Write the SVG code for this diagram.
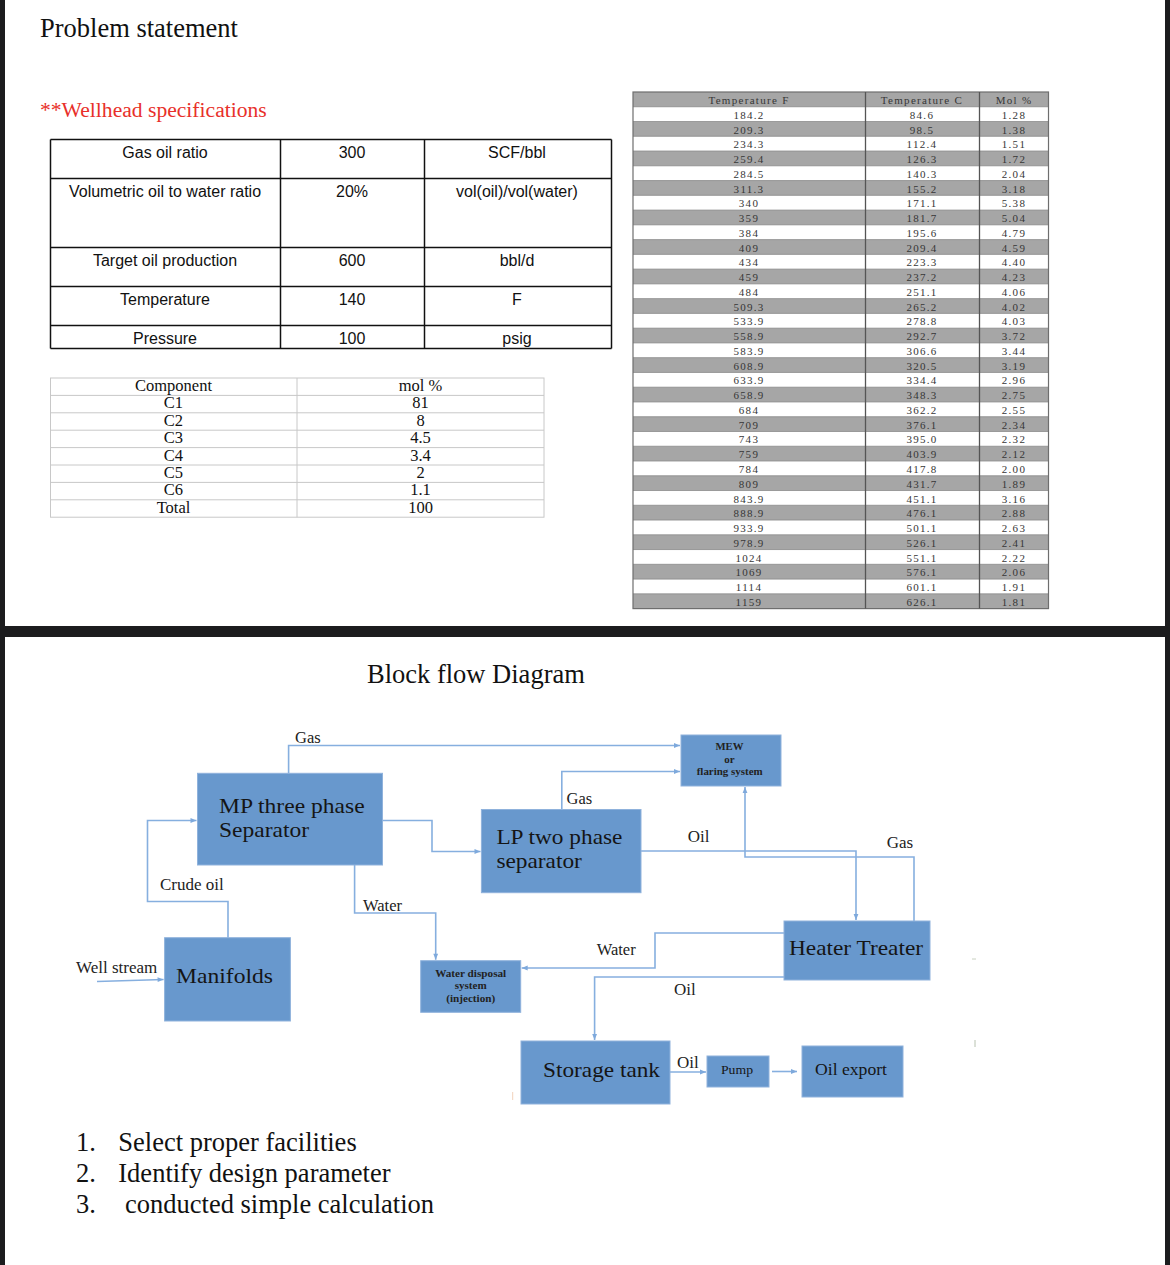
<svg xmlns="http://www.w3.org/2000/svg" width="1170" height="1265" viewBox="0 0 1170 1265">
<style>
.serif{font-family:"Liberation Serif","Times New Roman",serif;fill:#111}
.sans{font-family:"Liberation Sans",Arial,sans-serif;fill:#111;font-size:16px}
.h1{font-size:26.5px}
.comp{font-size:16.5px}
.rt{font-family:"Liberation Serif","Times New Roman",serif;font-size:11px;fill:#363636;letter-spacing:1.3px}
.box{fill:#6898cd;stroke:#8fb2dc;stroke-width:1}
.bt{font-family:"Liberation Serif","Times New Roman",serif;fill:#151515}
.big{font-size:21px}
.small{font-size:11px;font-weight:bold;fill:#222}
.lbl{font-family:"Liberation Serif","Times New Roman",serif;fill:#222;font-size:16.5px}
.conn{fill:none;stroke:#86afdf;stroke-width:1.6}
.wl{stroke:#111;stroke-width:1.5}
.cl{stroke:#c8c8c8;stroke-width:1}
.rl{stroke:#8a8a8a;stroke-width:0.8}
</style>
<defs>
<marker id="ah" viewBox="0 0 10 10" refX="10" refY="5" markerWidth="7" markerHeight="6" orient="auto" markerUnits="userSpaceOnUse">
<path d="M0,1 L10,5 L0,9 z" fill="#7ea9dc"/>
</marker>
</defs>
<rect x="0" y="0" width="1170" height="1265" fill="#ffffff"/>
<!-- frame -->
<rect x="0" y="0" width="5" height="1265" fill="#1c1c1e"/>
<rect x="1165" y="0" width="5" height="1265" fill="#1c1c1e"/>
<rect x="0" y="626" width="1170" height="11" fill="#1c1c1e"/>

<!-- top section -->
<text class="serif h1" x="40" y="36.7">Problem statement</text>
<text x="40" y="116.7" style="font-family:'Liberation Serif','Times New Roman',serif;font-size:21.6px;fill:#e8302a">**Wellhead specifications</text>

<g id="wellhead-table">
<line class="wl" x1="50.5" y1="139.5" x2="611.5" y2="139.5"/>
<line class="wl" x1="50.5" y1="178.5" x2="611.5" y2="178.5"/>
<line class="wl" x1="50.5" y1="247.5" x2="611.5" y2="247.5"/>
<line class="wl" x1="50.5" y1="286.5" x2="611.5" y2="286.5"/>
<line class="wl" x1="50.5" y1="325.5" x2="611.5" y2="325.5"/>
<line class="wl" x1="50.5" y1="348.5" x2="611.5" y2="348.5"/>
<line class="wl" x1="50.5" y1="139.5" x2="50.5" y2="348.5"/>
<line class="wl" x1="280.5" y1="139.5" x2="280.5" y2="348.5"/>
<line class="wl" x1="424.5" y1="139.5" x2="424.5" y2="348.5"/>
<line class="wl" x1="611.5" y1="139.5" x2="611.5" y2="348.5"/>
<g class="sans" text-anchor="middle">
<text x="165" y="158">Gas oil ratio</text><text x="352" y="158">300</text><text x="517" y="158">SCF/bbl</text>
<text x="165" y="197">Volumetric oil to water ratio</text><text x="352" y="197">20%</text><text x="517" y="197">vol(oil)/vol(water)</text>
<text x="165" y="266">Target oil production</text><text x="352" y="266">600</text><text x="517" y="266">bbl/d</text>
<text x="165" y="305">Temperature</text><text x="352" y="305">140</text><text x="517" y="305">F</text>
<text x="165" y="344">Pressure</text><text x="352" y="344">100</text><text x="517" y="344">psig</text>
</g>
</g>

<g id="component-table">
<rect x="50.5" y="378" width="493.5" height="139.2" fill="none" stroke="#c8c8c8" stroke-width="1"/>
<line class="cl" x1="297" y1="378" x2="297" y2="517.2"/>
<line class="cl" x1="50.5" y1="395.4" x2="544" y2="395.4"/>
<line class="cl" x1="50.5" y1="412.8" x2="544" y2="412.8"/>
<line class="cl" x1="50.5" y1="430.2" x2="544" y2="430.2"/>
<line class="cl" x1="50.5" y1="447.6" x2="544" y2="447.6"/>
<line class="cl" x1="50.5" y1="465" x2="544" y2="465"/>
<line class="cl" x1="50.5" y1="482.4" x2="544" y2="482.4"/>
<line class="cl" x1="50.5" y1="499.8" x2="544" y2="499.8"/>
<g class="serif comp" text-anchor="middle">
<text x="173.5" y="391">Component</text><text x="420.5" y="391">mol %</text>
<text x="173.5" y="408.4">C1</text><text x="420.5" y="408.4">81</text>
<text x="173.5" y="425.8">C2</text><text x="420.5" y="425.8">8</text>
<text x="173.5" y="443.2">C3</text><text x="420.5" y="443.2">4.5</text>
<text x="173.5" y="460.6">C4</text><text x="420.5" y="460.6">3.4</text>
<text x="173.5" y="478">C5</text><text x="420.5" y="478">2</text>
<text x="173.5" y="495.4">C6</text><text x="420.5" y="495.4">1.1</text>
<text x="173.5" y="512.8">Total</text><text x="420.5" y="512.8">100</text>
</g>
</g>

<g id="temperature-table">
<rect x="633" y="92" width="415.5" height="516.6" fill="#ffffff"/>
<g fill="#a6a6a6">
<rect x="633" y="92" width="415.5" height="14.76"/>
<rect x="633" y="121.52" width="415.5" height="14.76"/>
<rect x="633" y="151.04" width="415.5" height="14.76"/>
<rect x="633" y="180.56" width="415.5" height="14.76"/>
<rect x="633" y="210.08" width="415.5" height="14.76"/>
<rect x="633" y="239.6" width="415.5" height="14.76"/>
<rect x="633" y="269.12" width="415.5" height="14.76"/>
<rect x="633" y="298.64" width="415.5" height="14.76"/>
<rect x="633" y="328.16" width="415.5" height="14.76"/>
<rect x="633" y="357.68" width="415.5" height="14.76"/>
<rect x="633" y="387.2" width="415.5" height="14.76"/>
<rect x="633" y="416.72" width="415.5" height="14.76"/>
<rect x="633" y="446.24" width="415.5" height="14.76"/>
<rect x="633" y="475.76" width="415.5" height="14.76"/>
<rect x="633" y="505.28" width="415.5" height="14.76"/>
<rect x="633" y="534.8" width="415.5" height="14.76"/>
<rect x="633" y="564.32" width="415.5" height="14.76"/>
<rect x="633" y="593.84" width="415.5" height="14.76"/>
</g>
<g>
<line class="rl" x1="633" y1="106.76" x2="1048.5" y2="106.76"/>
<line class="rl" x1="633" y1="121.52" x2="1048.5" y2="121.52"/>
<line class="rl" x1="633" y1="136.28" x2="1048.5" y2="136.28"/>
<line class="rl" x1="633" y1="151.04" x2="1048.5" y2="151.04"/>
<line class="rl" x1="633" y1="165.8" x2="1048.5" y2="165.8"/>
<line class="rl" x1="633" y1="180.56" x2="1048.5" y2="180.56"/>
<line class="rl" x1="633" y1="195.32" x2="1048.5" y2="195.32"/>
<line class="rl" x1="633" y1="210.08" x2="1048.5" y2="210.08"/>
<line class="rl" x1="633" y1="224.84" x2="1048.5" y2="224.84"/>
<line class="rl" x1="633" y1="239.6" x2="1048.5" y2="239.6"/>
<line class="rl" x1="633" y1="254.36" x2="1048.5" y2="254.36"/>
<line class="rl" x1="633" y1="269.12" x2="1048.5" y2="269.12"/>
<line class="rl" x1="633" y1="283.88" x2="1048.5" y2="283.88"/>
<line class="rl" x1="633" y1="298.64" x2="1048.5" y2="298.64"/>
<line class="rl" x1="633" y1="313.4" x2="1048.5" y2="313.4"/>
<line class="rl" x1="633" y1="328.16" x2="1048.5" y2="328.16"/>
<line class="rl" x1="633" y1="342.92" x2="1048.5" y2="342.92"/>
<line class="rl" x1="633" y1="357.68" x2="1048.5" y2="357.68"/>
<line class="rl" x1="633" y1="372.44" x2="1048.5" y2="372.44"/>
<line class="rl" x1="633" y1="387.2" x2="1048.5" y2="387.2"/>
<line class="rl" x1="633" y1="401.96" x2="1048.5" y2="401.96"/>
<line class="rl" x1="633" y1="416.72" x2="1048.5" y2="416.72"/>
<line class="rl" x1="633" y1="431.48" x2="1048.5" y2="431.48"/>
<line class="rl" x1="633" y1="446.24" x2="1048.5" y2="446.24"/>
<line class="rl" x1="633" y1="461" x2="1048.5" y2="461"/>
<line class="rl" x1="633" y1="475.76" x2="1048.5" y2="475.76"/>
<line class="rl" x1="633" y1="490.52" x2="1048.5" y2="490.52"/>
<line class="rl" x1="633" y1="505.28" x2="1048.5" y2="505.28"/>
<line class="rl" x1="633" y1="520.04" x2="1048.5" y2="520.04"/>
<line class="rl" x1="633" y1="534.8" x2="1048.5" y2="534.8"/>
<line class="rl" x1="633" y1="549.56" x2="1048.5" y2="549.56"/>
<line class="rl" x1="633" y1="564.32" x2="1048.5" y2="564.32"/>
<line class="rl" x1="633" y1="579.08" x2="1048.5" y2="579.08"/>
<line class="rl" x1="633" y1="593.84" x2="1048.5" y2="593.84"/>
</g>
<rect x="633" y="92" width="415.5" height="516.6" fill="none" stroke="#6e6e6e" stroke-width="1.2"/>
<line x1="865.5" y1="92" x2="865.5" y2="608.6" stroke="#555" stroke-width="1.3"/>
<line x1="979.5" y1="92" x2="979.5" y2="608.6" stroke="#555" stroke-width="1.3"/>
<g class="rt" text-anchor="middle">
<text x="749" y="104">Temperature F</text><text x="922" y="104">Temperature C</text><text x="1014" y="104">Mol %</text>
<text x="749" y="118.76">184.2</text><text x="922" y="118.76">84.6</text><text x="1014" y="118.76">1.28</text>
<text x="749" y="133.52">209.3</text><text x="922" y="133.52">98.5</text><text x="1014" y="133.52">1.38</text>
<text x="749" y="148.28">234.3</text><text x="922" y="148.28">112.4</text><text x="1014" y="148.28">1.51</text>
<text x="749" y="163.04">259.4</text><text x="922" y="163.04">126.3</text><text x="1014" y="163.04">1.72</text>
<text x="749" y="177.8">284.5</text><text x="922" y="177.8">140.3</text><text x="1014" y="177.8">2.04</text>
<text x="749" y="192.56">311.3</text><text x="922" y="192.56">155.2</text><text x="1014" y="192.56">3.18</text>
<text x="749" y="207.32">340</text><text x="922" y="207.32">171.1</text><text x="1014" y="207.32">5.38</text>
<text x="749" y="222.08">359</text><text x="922" y="222.08">181.7</text><text x="1014" y="222.08">5.04</text>
<text x="749" y="236.84">384</text><text x="922" y="236.84">195.6</text><text x="1014" y="236.84">4.79</text>
<text x="749" y="251.6">409</text><text x="922" y="251.6">209.4</text><text x="1014" y="251.6">4.59</text>
<text x="749" y="266.36">434</text><text x="922" y="266.36">223.3</text><text x="1014" y="266.36">4.40</text>
<text x="749" y="281.12">459</text><text x="922" y="281.12">237.2</text><text x="1014" y="281.12">4.23</text>
<text x="749" y="295.88">484</text><text x="922" y="295.88">251.1</text><text x="1014" y="295.88">4.06</text>
<text x="749" y="310.64">509.3</text><text x="922" y="310.64">265.2</text><text x="1014" y="310.64">4.02</text>
<text x="749" y="325.4">533.9</text><text x="922" y="325.4">278.8</text><text x="1014" y="325.4">4.03</text>
<text x="749" y="340.16">558.9</text><text x="922" y="340.16">292.7</text><text x="1014" y="340.16">3.72</text>
<text x="749" y="354.92">583.9</text><text x="922" y="354.92">306.6</text><text x="1014" y="354.92">3.44</text>
<text x="749" y="369.68">608.9</text><text x="922" y="369.68">320.5</text><text x="1014" y="369.68">3.19</text>
<text x="749" y="384.44">633.9</text><text x="922" y="384.44">334.4</text><text x="1014" y="384.44">2.96</text>
<text x="749" y="399.2">658.9</text><text x="922" y="399.2">348.3</text><text x="1014" y="399.2">2.75</text>
<text x="749" y="413.96">684</text><text x="922" y="413.96">362.2</text><text x="1014" y="413.96">2.55</text>
<text x="749" y="428.72">709</text><text x="922" y="428.72">376.1</text><text x="1014" y="428.72">2.34</text>
<text x="749" y="443.48">743</text><text x="922" y="443.48">395.0</text><text x="1014" y="443.48">2.32</text>
<text x="749" y="458.24">759</text><text x="922" y="458.24">403.9</text><text x="1014" y="458.24">2.12</text>
<text x="749" y="473">784</text><text x="922" y="473">417.8</text><text x="1014" y="473">2.00</text>
<text x="749" y="487.76">809</text><text x="922" y="487.76">431.7</text><text x="1014" y="487.76">1.89</text>
<text x="749" y="502.52">843.9</text><text x="922" y="502.52">451.1</text><text x="1014" y="502.52">3.16</text>
<text x="749" y="517.28">888.9</text><text x="922" y="517.28">476.1</text><text x="1014" y="517.28">2.88</text>
<text x="749" y="532.04">933.9</text><text x="922" y="532.04">501.1</text><text x="1014" y="532.04">2.63</text>
<text x="749" y="546.8">978.9</text><text x="922" y="546.8">526.1</text><text x="1014" y="546.8">2.41</text>
<text x="749" y="561.56">1024</text><text x="922" y="561.56">551.1</text><text x="1014" y="561.56">2.22</text>
<text x="749" y="576.32">1069</text><text x="922" y="576.32">576.1</text><text x="1014" y="576.32">2.06</text>
<text x="749" y="591.08">1114</text><text x="922" y="591.08">601.1</text><text x="1014" y="591.08">1.91</text>
<text x="749" y="605.84">1159</text><text x="922" y="605.84">626.1</text><text x="1014" y="605.84">1.81</text>
</g>
</g>

<!-- bottom section -->
<text class="serif h1" x="367" y="683">Block flow Diagram</text>

<g id="connectors">
<path class="conn" d="M288.6,773 V745.5 H680" marker-end="url(#ah)"/>
<path class="conn" d="M561.8,809.5 V771.5 H680" marker-end="url(#ah)"/>
<path class="conn" d="M382.5,820.5 H432 V851.5 H480.5" marker-end="url(#ah)"/>
<path class="conn" d="M228,937.7 V901.5 H147.5 V820.5 H196.5" marker-end="url(#ah)"/>
<path class="conn" d="M97,981.5 L163.6,979.5" marker-end="url(#ah)"/>
<path class="conn" d="M354.6,865 V913 H435.7 V959.7" marker-end="url(#ah)"/>
<path class="conn" d="M641,851 H856 V920" marker-end="url(#ah)"/>
<path class="conn" d="M914,921 V857 H745 V787" marker-end="url(#ah)"/>
<path class="conn" d="M784,933 H655 V968 H521.7" marker-end="url(#ah)"/>
<path class="conn" d="M784,977 H594.6 V1040" marker-end="url(#ah)"/>
<path class="conn" d="M670,1072 H706" marker-end="url(#ah)"/>
<path class="conn" d="M772,1071.5 H797" marker-end="url(#ah)"/>
</g>

<g id="labels" class="lbl">
<text x="295" y="743">Gas</text>
<text x="566.5" y="804">Gas</text>
<text x="687.7" y="841.7" style="font-size:17px">Oil</text>
<text x="886.7" y="848.3" style="font-size:17px">Gas</text>
<text x="160" y="890" style="font-size:17px">Crude oil</text>
<text x="363" y="910.7">Water</text>
<text x="76" y="972.7" style="font-size:17px">Well stream</text>
<text x="596.7" y="955">Water</text>
<text x="674" y="995" style="font-size:17px">Oil</text>
<text x="677" y="1068" style="font-size:17px">Oil</text>
</g>

<g id="mp-separator">
<rect class="box" x="197.5" y="773.3" width="185" height="91.7"/>
<text class="bt big" x="219" y="812.7" textLength="145.6" lengthAdjust="spacingAndGlyphs">MP three phase</text>
<text class="bt big" x="219" y="837" textLength="90" lengthAdjust="spacingAndGlyphs">Separator</text>
</g>
<g id="lp-separator">
<rect class="box" x="481.4" y="809.5" width="159.6" height="83.2"/>
<text class="bt big" x="496.4" y="844" textLength="126" lengthAdjust="spacingAndGlyphs">LP two phase</text>
<text class="bt big" x="496.4" y="868" textLength="85.5" lengthAdjust="spacingAndGlyphs">separator</text>
</g>
<g id="mew-flaring">
<rect class="box" x="681" y="735" width="100" height="51"/>
<text class="bt small" x="729.5" y="750" text-anchor="middle" textLength="28" lengthAdjust="spacingAndGlyphs">MEW</text>
<text class="bt small" x="729.5" y="762.7" text-anchor="middle">or</text>
<text class="bt small" x="729.7" y="775" text-anchor="middle" textLength="66" lengthAdjust="spacingAndGlyphs">flaring system</text>
</g>
<g id="heater-treater">
<rect class="box" x="784" y="921" width="146" height="59"/>
<text class="bt big" x="789" y="955" textLength="134" lengthAdjust="spacingAndGlyphs">Heater Treater</text>
</g>
<g id="manifolds">
<rect class="box" x="164.6" y="937.7" width="125.8" height="83.3"/>
<text class="bt big" x="176" y="983.3" textLength="97" lengthAdjust="spacingAndGlyphs">Manifolds</text>
</g>
<g id="water-disposal">
<rect class="box" x="420.7" y="960.7" width="100" height="51.6"/>
<text class="bt small" x="470.7" y="977" text-anchor="middle" textLength="71" lengthAdjust="spacingAndGlyphs">Water disposal</text>
<text class="bt small" x="470.7" y="989" text-anchor="middle" textLength="32" lengthAdjust="spacingAndGlyphs">system</text>
<text class="bt small" x="470.7" y="1002" text-anchor="middle" textLength="49" lengthAdjust="spacingAndGlyphs">(injection)</text>
</g>
<g id="storage-tank">
<rect class="box" x="521" y="1041" width="149" height="63"/>
<text class="bt big" x="543" y="1077" textLength="117" lengthAdjust="spacingAndGlyphs">Storage tank</text>
</g>
<g id="pump">
<rect class="box" x="707" y="1056" width="62" height="31"/>
<text class="bt" x="721" y="1074" style="font-size:13px" textLength="32" lengthAdjust="spacingAndGlyphs">Pump</text>
</g>
<g id="oil-export">
<rect class="box" x="802" y="1046" width="101" height="51"/>
<text class="bt" x="815" y="1075" style="font-size:17px" textLength="72" lengthAdjust="spacingAndGlyphs">Oil export</text>
</g>

<!-- small stray marks -->
<line x1="975" y1="1040" x2="975" y2="1047" stroke="#b8c2b0" stroke-width="1"/>
<line x1="972" y1="959" x2="976" y2="959" stroke="#c8d0c0" stroke-width="1"/>
<line x1="512.7" y1="1092" x2="512.7" y2="1100" stroke="#f2d2bc" stroke-width="1"/>

<g class="serif h1">
<text x="76" y="1150.7">1.</text><text x="118.3" y="1150.7">Select proper facilities</text>
<text x="76" y="1181.7">2.</text><text x="118.3" y="1181.7">Identify design parameter</text>
<text x="76" y="1213.3">3.</text><text x="125" y="1213.3">conducted simple calculation</text>
</g>
</svg>
